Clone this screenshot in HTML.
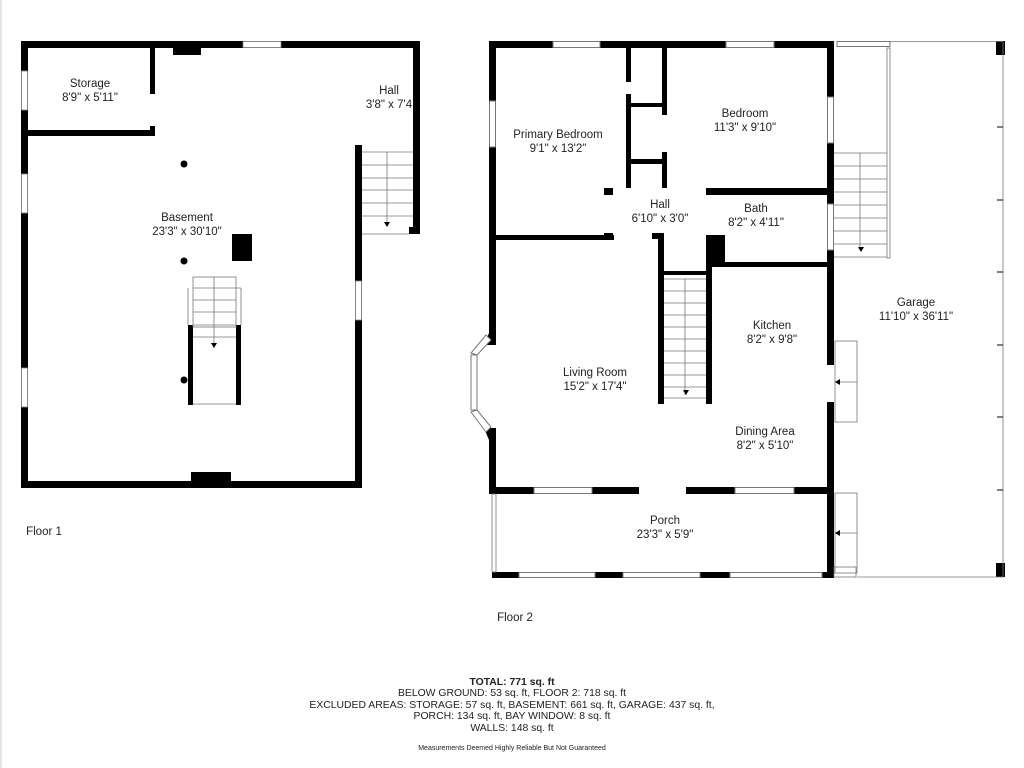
<!DOCTYPE html>
<html><head><meta charset="utf-8"><style>
html,body{margin:0;padding:0;background:#fff;}
svg{display:block;}
text{font-family:"Liberation Sans",sans-serif;font-size:11.5px;fill:#222;text-anchor:middle;}
.s{font-size:10.4px;}
</style></head><body>
<svg width="1024" height="768" viewBox="0 0 1024 768" xmlns="http://www.w3.org/2000/svg">
<rect x="0" y="0" width="2" height="768" fill="#e6e6e6"/>
<g fill="#000">
<rect x="21" y="41" width="399" height="7"/>
<rect x="21" y="41" width="7" height="447"/>
<rect x="21" y="481" width="341" height="7"/>
<rect x="355" y="145" width="7" height="343"/>
<rect x="413" y="41" width="7" height="193"/>
<rect x="409" y="227" width="11" height="7"/>
<rect x="355" y="227" width="6" height="7"/>
<rect x="173" y="41" width="28" height="14"/>
<rect x="28" y="130" width="127" height="6"/>
<rect x="150" y="48" width="5" height="46"/>
<rect x="150" y="126" width="5" height="10"/>
<rect x="191" y="472" width="40" height="16"/>
<rect x="232" y="234" width="20" height="27"/>
<circle cx="184" cy="164" r="3.5"/>
<circle cx="184" cy="261" r="3.5"/>
<circle cx="184" cy="380" r="3.5"/>
<rect x="188" y="325" width="5" height="80"/>
<rect x="236" y="325" width="5" height="80"/>
</g>
<g fill="#fff" stroke="#888" stroke-width="0.8">
<rect x="243" y="41.5" width="38" height="6"/>
<rect x="21.5" y="71" width="6" height="39"/>
<rect x="21.5" y="174" width="6" height="39"/>
<rect x="21.5" y="368" width="6" height="39"/>
<rect x="355.5" y="281" width="6" height="39"/>
</g>
<g fill="none" stroke="#777" stroke-width="0.8">
<rect x="193" y="277" width="43" height="50"/>
<path d="M188 288V325M241 288V325M193 288H241M193 300H236M193 312H236M193 325H236M193 337H236M214 277V348M193 404H236"/>
<path d="M362 152H413M362 165H413M362 178H413M362 190H413M362 203H413M362 216H413M362 234H409M387 152V225"/>
</g>
<path d="M384 222L390 222L387 227Z M211 343L217 343L214 348Z" fill="#000"/>

<g fill="#000">
<rect x="489" y="41" width="345" height="7"/>
<rect x="489" y="41" width="7" height="296"/>
<rect x="489" y="430" width="7" height="64"/>
<rect x="489" y="487" width="345" height="7"/>
<rect x="827" y="41" width="7" height="324"/>
<rect x="827" y="402" width="7" height="174"/>
<rect x="496" y="235" width="118" height="5"/>
<rect x="604" y="188" width="9" height="7"/>
<rect x="706" y="188" width="121" height="7"/>
<rect x="626" y="48" width="5" height="34"/>
<rect x="626" y="94" width="5" height="94"/>
<rect x="662" y="48" width="5" height="67"/>
<rect x="662" y="152" width="5" height="36"/>
<rect x="631" y="103" width="31" height="4"/>
<rect x="631" y="159" width="31" height="5"/>
<rect x="658" y="235" width="6" height="169"/>
<rect x="706" y="235" width="6" height="169"/>
<rect x="706" y="235" width="19" height="31"/>
<rect x="712" y="262" width="115" height="5"/>
<rect x="664" y="271" width="42" height="4"/>
<rect x="604" y="233" width="9" height="7"/>
<rect x="652" y="233" width="12" height="6"/>
<rect x="492" y="572" width="342" height="6"/>
<rect x="996" y="41" width="9" height="14"/>
<rect x="996" y="563" width="9" height="14"/>
<polygon points="489,333 496,333 496,345 484,345"/>
<polygon points="484,428 496,428 496,440 489,440"/>
</g>
<g fill="#fff" stroke="#777" stroke-width="1">
<rect x="553" y="41.5" width="47" height="6"/>
<rect x="726" y="41.5" width="48" height="6"/>
<rect x="489.5" y="101" width="6" height="46"/>
<rect x="827.5" y="97" width="6" height="46"/>
<rect x="827.5" y="204" width="6" height="46"/>
<rect x="534" y="487.5" width="58" height="6"/>
<rect x="735" y="487.5" width="59" height="6"/>
<rect x="519" y="572.5" width="76" height="5"/>
<rect x="623" y="572.5" width="77" height="5"/>
<rect x="730" y="572.5" width="92" height="5"/>
<rect x="837" y="41.5" width="53" height="5"/>
<rect x="471" y="355" width="6" height="55"/>
<polygon points="477,355 471,353 486,335 491,340"/>
<polygon points="477,410 471,412 486,432 491,427"/>
</g>
<rect x="639" y="487" width="47" height="7" fill="#fff"/>
<rect x="827" y="365" width="7" height="37" fill="#fff"/>
<g fill="none" stroke="#777" stroke-width="0.8">
<path d="M664 279H706M664 291H706M664 303H706M664 315H706M664 327H706M664 339H706M664 351H706M664 363H706M664 375H706M664 387H706M664 398H706M685 279V395"/>
<path d="M834 153H887M834 166H887M834 179H887M834 192H887M834 205H887M834 218H887M834 231H887M834 244H887M834 257H887M860 153V250"/>
<rect x="887" y="48" width="3" height="210"/>
<path d="M890 41.5H1003V577H857"/>
<rect x="835" y="341" width="22" height="81"/>
<path d="M835 382H857"/>
<rect x="835" y="493" width="22" height="80"/>
<path d="M835 533H857"/>
<rect x="492" y="494" width="4" height="78"/>
<rect x="834" y="567" width="22" height="10"/>
</g>
<path d="M858 247L864 247L861 252Z M683 390L689 390L686 395Z M835 382L840 379L840 385Z M835 533L840 530L840 536Z" fill="#000"/>
<g stroke="#000" stroke-width="1">
<path d="M997 127H1003M997 200H1003M997 272H1003M997 345H1003M997 417H1003M997 490H1003"/>
</g>

<text x="90" y="87">Storage</text>
<text x="90" y="101">8'9" x 5'11"</text>
<text x="389" y="94">Hall</text>
<text x="389" y="108">3'8" x 7'4</text>
<text x="187" y="221">Basement</text>
<text x="187" y="235">23'3" x 30'10"</text>
<text x="558" y="138">Primary Bedroom</text>
<text x="558" y="152">9'1" x 13'2"</text>
<text x="745" y="117">Bedroom</text>
<text x="745" y="131">11'3" x 9'10"</text>
<text x="660" y="208">Hall</text>
<text x="660" y="222">6'10" x 3'0"</text>
<text x="756" y="212">Bath</text>
<text x="756" y="226">8'2" x 4'11"</text>
<text x="916" y="306">Garage</text>
<text x="916" y="320">11'10" x 36'11"</text>
<text x="772" y="329">Kitchen</text>
<text x="772" y="343">8'2" x 9'8"</text>
<text x="595" y="376">Living Room</text>
<text x="595" y="390">15'2" x 17'4"</text>
<text x="765" y="435">Dining Area</text>
<text x="765" y="449">8'2" x 5'10"</text>
<text x="665" y="524">Porch</text>
<text x="665" y="538">23'3" x 5'9"</text>
<text x="44" y="535">Floor 1</text>
<text x="515" y="621">Floor 2</text>
<text class="s" x="512" y="685" style="font-weight:bold">TOTAL: 771 sq. ft</text>
<text class="s" x="512" y="696">BELOW GROUND: 53 sq. ft, FLOOR 2: 718 sq. ft</text>
<text class="s" x="512" y="708">EXCLUDED AREAS: STORAGE: 57 sq. ft, BASEMENT: 661 sq. ft, GARAGE: 437 sq. ft,</text>
<text class="s" x="512" y="719">PORCH: 134 sq. ft, BAY WINDOW: 8 sq. ft</text>
<text class="s" x="512" y="731">WALLS: 148 sq. ft</text>
<text x="512" y="750" style="font-size:7px">Measurements Deemed Highly Reliable But Not Guaranteed</text>
</svg>
</body></html>
